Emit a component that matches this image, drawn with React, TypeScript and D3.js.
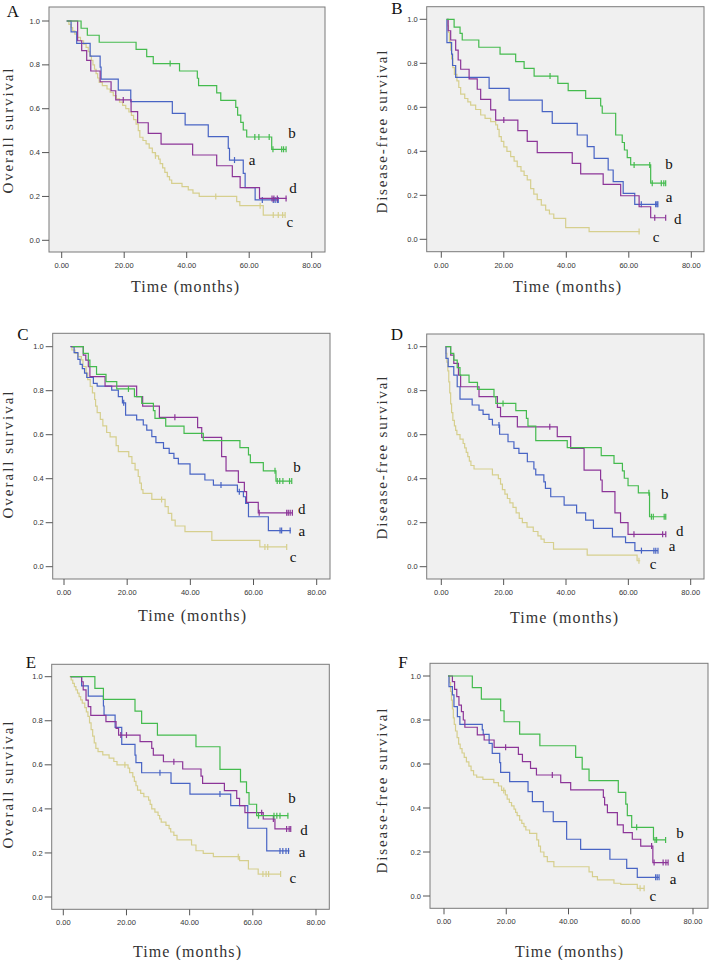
import React from "react";
import * as d3 from "d3";

type Pt = [number, number];

// ---------- tick labels ----------
const xTicks = [0, 20, 40, 60, 80];
const yTicks = [0, 0.2, 0.4, 0.6, 0.8, 1.0];

// ---------- Panel A: Overall survival ----------
const A_b: Pt[] = [[1.6,1],[6.2,0.967],[8.2,0.935],[12.0,0.903],[23.8,0.871],[27.2,0.838],[29.3,0.806],[37.7,0.772],[43.4,0.739],[43.8,0.705],[49.6,0.672],[50.9,0.638],[55.7,0.606],[56.3,0.571],[57.3,0.538],[58.1,0.503],[59.2,0.471],[67.2,0.415],[71.8,0.415]];
const A_b_cens = [34.7, 61.8, 63.1, 66.4, 67.6, 70.4, 71.0, 71.8];
const A_a: Pt[] = [[1.6,1],[3.0,0.95],[4.8,0.898],[9.1,0.84],[12.3,0.79],[12.6,0.735],[18.1,0.685],[22.1,0.632],[35.4,0.579],[39.5,0.526],[46.9,0.473],[53.3,0.419],[53.7,0.366],[58.1,0.305],[58.7,0.24],[61.9,0.184],[69.3,0.184]];
const A_a_cens = [55.3, 64.2, 67.7, 68.3, 69.0, 69.3];
const A_d: Pt[] = [[1.6,1],[5.1,0.91],[6.4,0.865],[8.0,0.82],[9.3,0.772],[12.3,0.723],[15.8,0.682],[17.3,0.64],[22.2,0.587],[24.3,0.536],[27.7,0.488],[31.8,0.439],[41.9,0.389],[49.6,0.34],[54.6,0.29],[57.1,0.24],[63.3,0.191],[72,0.191]];
const A_d_cens = [19.7, 67.3, 67.9, 69.0, 71.8];
const A_c: Pt[] = [[1.6,1],[2.3,0.985],[3,0.97],[3.5,0.955],[4.2,0.94],[5,0.925],[6,0.91],[7,0.895],[7.8,0.88],[8.5,0.86],[9,0.84],[9.5,0.82],[10,0.8],[10.5,0.78],[11,0.76],[11.5,0.74],[12,0.72],[13,0.705],[14.5,0.69],[15.5,0.675],[16.5,0.66],[17.5,0.645],[18.5,0.63],[19.5,0.615],[20.5,0.6],[21.5,0.585],[22.3,0.57],[23,0.55],[23.8,0.53],[24.5,0.5],[25,0.47],[26,0.455],[27,0.44],[28,0.42],[29,0.4],[30,0.385],[31,0.37],[31.5,0.35],[32.3,0.33],[33,0.31],[33.8,0.29],[34.5,0.275],[35.2,0.26],[38.5,0.245],[40.5,0.23],[42,0.215],[44,0.2],[56,0.176],[57,0.158],[64.5,0.115],[71.5,0.115]];
const A_c_cens = [30, 49.3, 63.5, 67.7, 69.3, 70.7, 71.5];

// ---------- Panel B: Disease-free survival ----------
const B_b: Pt[] = [[1.7,1],[4.1,0.964],[6.0,0.936],[6.7,0.906],[12.0,0.873],[18.8,0.842],[23.8,0.808],[26.5,0.777],[29.7,0.742],[37.3,0.709],[40.6,0.676],[46.2,0.641],[51.0,0.606],[51.5,0.573],[55.8,0.474],[57.9,0.44],[58.6,0.406],[59.5,0.371],[60.6,0.338],[67.0,0.255],[71.8,0.255]];
const B_b_cens = [34.8, 61.7, 66.7, 67.5, 70.4, 71.2, 71.8];
const B_a: Pt[] = [[1.7,1],[1.8,0.894],[3.3,0.842],[3.6,0.79],[4.6,0.736],[15.3,0.686],[21.7,0.633],[32.3,0.58],[35.5,0.527],[43.5,0.474],[46.7,0.421],[48.9,0.368],[53.4,0.315],[55.0,0.262],[58.2,0.209],[61.9,0.159],[69.3,0.159]];
const B_a_cens = [64.0, 68.6, 69.0, 69.3];
const B_d: Pt[] = [[2.0,1],[2.2,0.948],[3.0,0.906],[4.6,0.86],[5.4,0.815],[6.2,0.773],[8.9,0.729],[11.5,0.682],[12.6,0.636],[15.8,0.588],[17.4,0.542],[24.5,0.494],[27.5,0.445],[30.7,0.394],[41.9,0.345],[44.6,0.297],[51.8,0.25],[57.4,0.198],[63.3,0.148],[67.0,0.098],[71.8,0.098]];
const B_d_cens = [20.0, 68.3, 71.8];
const B_c: Pt[] = [[1.7,1],[2,0.97],[2.3,0.94],[2.6,0.9],[3,0.86],[3.3,0.82],[3.7,0.78],[4.2,0.75],[5,0.72],[5.6,0.69],[6.2,0.66],[7.5,0.64],[8.5,0.625],[9.4,0.61],[11,0.59],[12.6,0.565],[14,0.55],[15.8,0.535],[17.4,0.52],[18,0.5],[18.5,0.467],[19.2,0.445],[20,0.42],[21,0.4],[22.2,0.376],[23.3,0.355],[24.3,0.33],[25.5,0.31],[26.5,0.29],[27.5,0.27],[28.6,0.23],[29.6,0.205],[30.7,0.18],[32,0.155],[33.4,0.133],[34.6,0.115],[36,0.095],[39.8,0.053],[47.3,0.035],[63.5,0.035]];
const B_c_cens = [63.3];

// ---------- Panel C: Overall survival ----------
const C_b: Pt[] = [[2.6,1],[6.1,0.97],[7.7,0.939],[8.2,0.909],[10.3,0.874],[13.3,0.841],[16.7,0.808],[22.3,0.773],[24.6,0.742],[28.3,0.709],[28.8,0.674],[32.2,0.639],[38.0,0.606],[44.1,0.573],[55.7,0.541],[58.4,0.508],[59.0,0.473],[63.1,0.436],[67.1,0.389],[72.1,0.389]];
const C_b_cens = [20.4, 66.8, 67.5, 68.3, 69.3, 71.4, 72.1];
const C_a: Pt[] = [[2,1],[3.2,0.973],[4.4,0.942],[5.1,0.92],[5.8,0.9],[6.5,0.88],[7.2,0.86],[9.3,0.833],[10.5,0.821],[15.1,0.803],[17.2,0.773],[18.5,0.745],[19.5,0.689],[23,0.667],[25.1,0.644],[26.2,0.621],[27.8,0.591],[29.1,0.564],[31.5,0.538],[33.3,0.515],[34.8,0.492],[36.2,0.467],[39.9,0.421],[44.6,0.394],[47.3,0.371],[54.9,0.341],[56.8,0.318],[57.5,0.288],[58.4,0.227],[64.7,0.164],[71.8,0.164]];
const C_a_cens = [18.9, 49.7, 55.5, 68.4, 68.9, 71.6];
const C_d: Pt[] = [[2.3,1],[6.1,0.962],[6.9,0.939],[7.7,0.909],[8.2,0.864],[13.0,0.821],[23.0,0.773],[24.9,0.73],[30.2,0.679],[42.3,0.632],[43.6,0.588],[49.9,0.5],[51.3,0.436],[55.2,0.383],[57.1,0.341],[57.8,0.292],[61.5,0.245],[72.3,0.245]];
const C_d_cens = [35.1, 61.8, 70.5, 71.0, 71.6, 72.3];
const C_c: Pt[] = [[2,1],[2.5,0.985],[3.5,0.97],[4.5,0.955],[5.5,0.94],[6,0.91],[7,0.88],[7.5,0.85],[8.3,0.82],[9,0.79],[9.7,0.76],[10,0.73],[10.5,0.7],[11.5,0.67],[12.3,0.64],[13.5,0.61],[14.6,0.59],[16.5,0.55],[17.2,0.523],[20.5,0.5],[21.5,0.47],[22.5,0.44],[23.5,0.41],[24,0.38],[24.5,0.35],[25,0.333],[27.8,0.306],[32,0.273],[33,0.242],[34.1,0.212],[35.2,0.185],[38.3,0.159],[46.8,0.12],[62,0.09],[70.5,0.09]];
const C_c_cens = [30.9, 63.6, 64.5, 70.5];

// ---------- Panel D: Disease-free survival ----------
const D_b: Pt[] = [[1.4,1],[3.0,0.97],[4.0,0.939],[5.1,0.905],[6.0,0.871],[8.9,0.838],[11.6,0.806],[16.9,0.773],[17.5,0.742],[23.9,0.709],[27.3,0.674],[27.8,0.639],[30.3,0.573],[40.4,0.541],[51.3,0.505],[55.4,0.47],[58.1,0.436],[58.7,0.402],[59.9,0.368],[63.2,0.336],[66.8,0.227],[72,0.227]];
const D_b_cens = [19.8, 66.6, 67.4, 68.0, 71.5, 72];
const D_a: Pt[] = [[1.4,1],[1.5,0.947],[2.2,0.909],[4.0,0.871],[5.1,0.818],[6.0,0.762],[9.9,0.735],[12.1,0.712],[13.4,0.692],[15.3,0.67],[16.4,0.644],[18.7,0.602],[21.4,0.568],[23.3,0.538],[24.9,0.515],[27.6,0.477],[29.7,0.444],[30.3,0.417],[32.9,0.386],[33.4,0.356],[35.1,0.318],[39.4,0.28],[43.4,0.245],[46.3,0.212],[48.8,0.174],[54.9,0.136],[59.1,0.109],[62.1,0.073],[69.5,0.073]];
const D_a_cens = [18.5, 64.2, 68.2, 68.8, 69.5];
const D_d: Pt[] = [[1.4,1],[3.0,0.962],[4.0,0.924],[5.5,0.871],[6.2,0.818],[12.1,0.773],[18.0,0.724],[19.0,0.682],[24.4,0.636],[37.2,0.591],[41.5,0.538],[45.8,0.439],[51.1,0.394],[51.6,0.341],[55.7,0.245],[57.5,0.2],[59.9,0.147],[72,0.147]];
const D_d_cens = [34.8, 61.8, 71.0, 72];
const D_c: Pt[] = [[1.4,1],[1.5,0.97],[1.8,0.93],[2.1,0.89],[2.4,0.84],[2.7,0.79],[3.0,0.74],[3.3,0.7],[3.7,0.665],[4.2,0.64],[4.6,0.62],[5,0.6],[6,0.58],[7,0.56],[7.5,0.54],[8,0.52],[8.5,0.5],[9,0.48],[9.5,0.46],[10.5,0.444],[16.4,0.417],[18.3,0.4],[19,0.375],[19.6,0.35],[20.4,0.33],[21.2,0.31],[22,0.29],[23,0.27],[24,0.245],[25,0.22],[26,0.2],[27.5,0.18],[29.5,0.16],[31,0.14],[32,0.125],[33,0.11],[36,0.08],[46.8,0.053],[62.8,0.027],[63.8,0.027]];
const D_c_cens = [63.4];

// ---------- Panel E: Overall survival ----------
const E_b: Pt[] = [[2.3,1],[10.0,0.947],[12.7,0.897],[22.7,0.844],[24.8,0.788],[29.8,0.735],[42.0,0.682],[49.6,0.579],[56.1,0.523],[58.0,0.474],[58.8,0.421],[61.2,0.369],[71.2,0.369]];
const E_b_cens = [61.8, 66.7, 67.6, 68.6, 71.1];
const E_a: Pt[] = [[2.3,1],[5.8,0.958],[7.9,0.912],[12.7,0.867],[12.9,0.826],[16.4,0.77],[18.5,0.693],[22.7,0.644],[23.0,0.61],[24.8,0.564],[34.1,0.516],[40.1,0.467],[53.0,0.415],[58.4,0.312],[64.4,0.209],[71.6,0.209]];
const E_a_cens = [30.6, 49.6, 68.6, 69.5, 70.5, 71.3];
const E_d: Pt[] = [[2.3,1],[5.8,0.977],[6.3,0.94],[7.2,0.894],[7.9,0.864],[8.7,0.824],[13.5,0.796],[16.7,0.765],[17.5,0.735],[24.3,0.705],[28,0.675],[28.5,0.644],[31.7,0.614],[37.8,0.581],[43.6,0.549],[44.1,0.516],[51,0.483],[54.9,0.448],[55.8,0.415],[57.5,0.383],[63.3,0.354],[67.0,0.309],[72,0.309]];
const E_d_cens = [18.2, 20, 35, 62.8, 66.5, 70.7, 71.5, 72];
const E_c: Pt[] = [[2,1],[2.5,0.985],[3,0.97],[3.5,0.955],[4,0.94],[4.5,0.925],[5,0.91],[5.5,0.895],[6,0.88],[6.8,0.86],[7.3,0.84],[7.8,0.82],[8.3,0.79],[8.8,0.76],[9.3,0.73],[9.8,0.7],[10.3,0.675],[11,0.66],[12.5,0.645],[14.5,0.63],[16,0.615],[17,0.6],[20.5,0.585],[21,0.565],[22,0.545],[22.5,0.525],[23,0.505],[23.5,0.485],[24.5,0.47],[25.5,0.455],[27,0.44],[27.5,0.42],[28,0.4],[29,0.385],[30,0.37],[30.5,0.355],[31,0.34],[32.5,0.325],[33.5,0.31],[34,0.295],[35,0.28],[36,0.259],[40.6,0.236],[42,0.21],[44.3,0.198],[47.5,0.183],[55.8,0.165],[58.6,0.127],[61.7,0.104],[68.8,0.104]];
const E_c_cens = [19.5, 55.4, 63.2, 64.2, 65, 68.8];

// ---------- Panel F: Disease-free survival ----------
const F_b: Pt[] = [[1.3,1],[9.1,0.947],[12.0,0.895],[18.2,0.842],[19.3,0.792],[24.3,0.736],[30.8,0.683],[42.3,0.63],[44.4,0.577],[46.6,0.524],[56.0,0.471],[58.4,0.418],[58.9,0.365],[60.3,0.312],[67.3,0.255],[71.2,0.255]];
const F_b_cens = [61.9, 67.8, 68.3, 71.2];
const F_a: Pt[] = [[1.3,1],[1.6,0.952],[2.7,0.914],[3.2,0.861],[4.3,0.815],[5.1,0.78],[12.3,0.755],[12.6,0.735],[14.5,0.694],[15.5,0.648],[17.9,0.606],[18.2,0.562],[21.1,0.52],[27.0,0.474],[28.4,0.429],[31.9,0.383],[35.1,0.338],[39.4,0.258],[43.9,0.212],[53.3,0.167],[58.7,0.126],[62.1,0.085],[69.1,0.085]];
const F_a_cens = [68.0, 68.5, 69.1];
const F_d: Pt[] = [[1.3,1],[2.7,0.974],[3.4,0.939],[4.1,0.906],[4.8,0.868],[5.6,0.838],[6.2,0.8],[6.7,0.767],[10.7,0.732],[12.9,0.709],[16.1,0.676],[23.9,0.644],[25.2,0.611],[27.8,0.58],[29.7,0.55],[37.5,0.515],[40.7,0.482],[51.2,0.448],[51.6,0.414],[52.5,0.379],[55.7,0.323],[57.6,0.288],[60.5,0.258],[63.2,0.227],[67.1,0.152],[72,0.152]];
const F_d_cens = [19.8, 34.8, 66.7, 67.5, 70.4, 71.3, 72];
const F_c: Pt[] = [[1.5,1],[1.8,0.97],[2.1,0.93],[2.4,0.89],[2.7,0.85],[3,0.81],[3.3,0.78],[3.7,0.75],[4.2,0.72],[4.7,0.69],[5.2,0.67],[5.8,0.65],[6.5,0.63],[7.2,0.61],[8,0.59],[8.7,0.57],[9.5,0.55],[10.5,0.54],[12.5,0.53],[16,0.515],[17.5,0.5],[18.5,0.48],[19.7,0.46],[20.3,0.44],[21,0.425],[21.7,0.41],[22.5,0.395],[23,0.38],[23.5,0.365],[24.3,0.345],[25,0.33],[25.7,0.315],[26.3,0.3],[27.5,0.285],[29.8,0.255],[30.4,0.227],[31,0.2],[32.1,0.179],[33.2,0.156],[35.3,0.133],[46.6,0.11],[47.7,0.088],[49.3,0.073],[54.6,0.058],[56.8,0.053],[62.1,0.035],[64.3,0.035]];
const F_c_cens = [19.2, 63, 64.3];

// ---------- styles ----------
const COL = { a: "#4864c4", b: "#44bb4e", c: "#d6cf8e", d: "#8c3598" };
const SERIF = "'Liberation Serif', 'DejaVu Serif', serif";
const SANS = "'Liberation Sans', Arial, sans-serif";

type Curve = { key: "a" | "b" | "c" | "d"; pts: Pt[]; cens: number[]; lab: Pt };
type Panel = {
  id: string; ylabel: string; ylen: number;
  frame: [number, number, number, number];
  xr: [number, number]; yr: [number, number];
  title: [number, number]; yl: [number, number]; xl: [number, number];
  curves: Curve[];
};

const panels: Panel[] = [
  { id: "A", ylabel: "Overall survival", ylen: 125, frame: [49, 7, 325, 252], xr: [61.7, 311.7], yr: [240.3, 21], title: [13, 17], yl: [8, 131], xl: [185, 292],
    curves: [
      { key: "c", pts: A_c, cens: A_c_cens, lab: [73.0, 0.083] },
      { key: "a", pts: A_a, cens: A_a_cens, lab: [60.9, 0.362] },
      { key: "d", pts: A_d, cens: A_d_cens, lab: [74.0, 0.234] },
      { key: "b", pts: A_b, cens: A_b_cens, lab: [73.7, 0.485] },
    ] },
  { id: "B", ylabel: "Disease-free survival", ylen: 163, frame: [426.7, 6.7, 704, 251.7], xr: [441.3, 691.3], yr: [239.3, 19.3], title: [397, 14], yl: [382, 132], xl: [567, 292],
    curves: [
      { key: "c", pts: B_c, cens: B_c_cens, lab: [68.7, 0.01] },
      { key: "a", pts: B_a, cens: B_a_cens, lab: [72.9, 0.192] },
      { key: "d", pts: B_d, cens: B_d_cens, lab: [75.7, 0.088] },
      { key: "b", pts: B_b, cens: B_b_cens, lab: [72.9, 0.342] },
    ] },
  { id: "C", ylabel: "Overall survival", ylen: 127, frame: [52.7, 333.3, 330, 579], xr: [64, 316.7], yr: [566.7, 346.7], title: [23, 340], yl: [8, 455], xl: [192, 621],
    curves: [
      { key: "c", pts: C_c, cens: C_c_cens, lab: [72.5, 0.044] },
      { key: "a", pts: C_a, cens: C_a_cens, lab: [75.3, 0.162] },
      { key: "d", pts: C_d, cens: C_d_cens, lab: [75.3, 0.262] },
      { key: "b", pts: C_b, cens: C_b_cens, lab: [73.8, 0.453] },
    ] },
  { id: "D", ylabel: "Disease-free survival", ylen: 163, frame: [426.7, 334, 704, 579], xr: [441.3, 690.7], yr: [566.7, 346.7], title: [397, 340], yl: [382, 458], xl: [564, 623],
    curves: [
      { key: "c", pts: D_c, cens: D_c_cens, lab: [67.9, 0.012] },
      { key: "a", pts: D_a, cens: D_a_cens, lab: [74.0, 0.09] },
      { key: "d", pts: D_d, cens: D_d_cens, lab: [76.5, 0.162] },
      { key: "b", pts: D_b, cens: D_b_cens, lab: [71.7, 0.33] },
    ] },
  { id: "E", ylabel: "Overall survival", ylen: 127, frame: [51.7, 664.3, 329.3, 909.3], xr: [63.3, 316], yr: [897, 676.7], title: [31, 668], yl: [8, 785], xl: [187, 957],
    curves: [
      { key: "c", pts: E_c, cens: E_c_cens, lab: [72.7, 0.082] },
      { key: "a", pts: E_a, cens: E_a_cens, lab: [75.6, 0.2] },
      { key: "d", pts: E_d, cens: E_d_cens, lab: [76.2, 0.3] },
      { key: "b", pts: E_b, cens: E_b_cens, lab: [72.4, 0.449] },
    ] },
  { id: "F", ylabel: "Disease-free survival", ylen: 165, frame: [430, 663.3, 708, 908.3], xr: [444, 693], yr: [896, 676], title: [403, 668], yl: [382, 791], xl: [569, 957],
    curves: [
      { key: "c", pts: F_c, cens: F_c_cens, lab: [67.1, 0.0] },
      { key: "a", pts: F_a, cens: F_a_cens, lab: [73.6, 0.077] },
      { key: "d", pts: F_d, cens: F_d_cens, lab: [76.1, 0.173] },
      { key: "b", pts: F_b, cens: F_b_cens, lab: [75.8, 0.286] },
    ] },
];

function levelAt(pts: Pt[], t: number): number {
  let s = pts[0][1];
  for (const p of pts) {
    if (p[0] <= t) s = p[1];
    else break;
  }
  return s;
}

function PanelView({ p }: { p: Panel }) {
  const x = d3.scaleLinear().domain([0, 80]).range(p.xr);
  const y = d3.scaleLinear().domain([0, 1]).range(p.yr);
  const line = d3.line<Pt>().x(d => x(d[0])).y(d => y(d[1])).curve(d3.curveStepAfter);
  const [L, T, R, B] = p.frame;
  return (
    <g>
      <rect x={L} y={T} width={R - L} height={B - T} fill="#f0f0f0" stroke="#7a7a7a" strokeWidth={1} />
      {yTicks.map(v => (
        <g key={"y" + v}>
          <line x1={L - 7} x2={L} y1={y(v)} y2={y(v)} stroke="#555" strokeWidth={1} />
          <text x={L - 9} y={y(v)} dy="0.35em" textAnchor="end" fontFamily={SANS} fontSize={7.5} fill="#333">{v.toFixed(1)}</text>
        </g>
      ))}
      {xTicks.map(v => (
        <g key={"x" + v}>
          <line x1={x(v)} x2={x(v)} y1={B} y2={B + 6} stroke="#555" strokeWidth={1} />
          <text x={x(v)} y={B + 16} textAnchor="middle" fontFamily={SANS} fontSize={7.5} fill="#333">{v.toFixed(2)}</text>
        </g>
      ))}
      {p.curves.map(c => (
        <g key={c.key}>
          <path d={line(c.pts) || ""} fill="none" stroke={COL[c.key]} strokeWidth={1.2} />
          {c.cens.map((t, i) => (
            <line key={i} x1={x(t)} x2={x(t)} y1={y(levelAt(c.pts, t)) - 3} y2={y(levelAt(c.pts, t)) + 3} stroke={COL[c.key]} strokeWidth={1.2} />
          ))}
        </g>
      ))}
      {p.curves.map(c => (
        <text key={"l" + c.key} x={x(c.lab[0])} y={y(c.lab[1])} dy="0.3em" textAnchor="middle" fontFamily={SERIF} fontSize={15} fill="#111">{c.key}</text>
      ))}
      <text x={p.title[0]} y={p.title[1]} textAnchor="middle" fontFamily={SERIF} fontSize={17} fill="#111">{p.id}</text>
      <text transform={`translate(${p.yl[0] + 5},${p.yl[1]}) rotate(-90)`} textAnchor="middle" fontFamily={SERIF} fontSize={15} fill="#333" textLength={p.ylen} lengthAdjust="spacing">{p.ylabel}</text>
      <text x={p.xl[0]} y={p.xl[1]} textAnchor="middle" fontFamily={SERIF} fontSize={16} fill="#333" textLength={108} lengthAdjust="spacing">Time (months)</text>
    </g>
  );
}

export default function App() {
  return (
    <svg width={709} height={960} style={{ position: "absolute", left: 0, top: 0, background: "#fff" }}>
      <rect width={709} height={960} fill="#fff" />
      {panels.map(p => <PanelView key={p.id} p={p} />)}
    </svg>
  );
}
